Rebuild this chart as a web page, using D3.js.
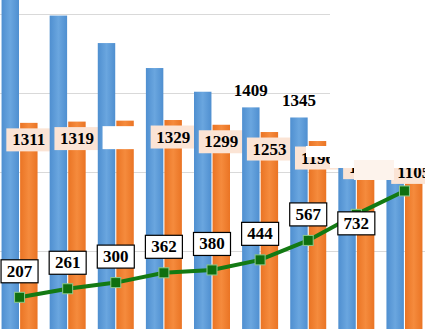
<!doctype html>
<html lang="en">
<head>
    <meta charset="UTF-8">
    <title>Bars and line</title>
    <script src="https://d3js.org/d3.v7.min.js"></script>
    <style>
        body { margin: 0; background: #fff; }
        svg { display: block; }
        .lbl { font-family: "Liberation Serif", "Times New Roman", serif; font-weight: bold; font-size: 17px; fill: #000; }
    </style>
</head>
<body>
<div id="chart"></div>
<script>

    // data
    const categories = ["1", "2", "3", "4", "5", "6", "7", "8", "9"];
    const blueValues = [2120, 1990, 1816, 1658, 1508, 1409, 1345, 1290, 1240];
    const blueLabels = [null, null, null, null, null, "1409", "1345", null, null];
    const orangeValues = [1311, 1319, 1325, 1329, 1299, 1253, 1196, 1135, 1105];
    const orangeLabels = ["1311", "1319", "", "1329", "1299", "1253", "1196", "1135", "1105"];
    const lineValues = [207, 261, 300, 362, 380, 444, 567, 732, 880];
    const lineLabels = ["207", "261", "300", "362", "380", "444", "567", "732", null];
    const yTicks = [0, 500, 1000, 1500, 2000];

    const width = 425, height = 329;

    let svg = d3.select("#chart").append("svg")
        .attr("width", width)
        .attr("height", height);

    //gradients for the bars
    let defs = svg.append("defs");
    function gradient(id, edge, mid) {
        let g = defs.append("linearGradient").attr("id", id)
            .attr("x1", "0%").attr("x2", "100%").attr("y1", "0%").attr("y2", "0%");
        g.append("stop").attr("offset", "0%").attr("stop-color", edge);
        g.append("stop").attr("offset", "50%").attr("stop-color", mid);
        g.append("stop").attr("offset", "100%").attr("stop-color", edge);
    }
    gradient("blueGrad", "#4f8fd0", "#6aa6df");
    gradient("orangeGrad", "#ea7424", "#f58b3d");

    //scales
    let x = d3.scaleBand()
        .domain(categories)
        .range([-4.5, 428.5]);
    let bw = x.bandwidth();

    let xSub = d3.scaleBand()
        .domain(["blue", "orange"])
        .range([bw / 2 - 18, bw / 2 + 18])
        .paddingInner(0.06);

    let y = d3.scaleLinear()
        .domain([0, 2000])
        .range([330, 14]);

    //gridlines
    let grid = svg.append("g")
        .call(d3.axisLeft(y).tickValues(yTicks).tickSize(-width).tickFormat(""));
    grid.select(".domain").remove();
    grid.selectAll("line").attr("stroke", "#d9d9d9");

    //bars
    let groups = svg.selectAll(".grp")
        .data(categories)
        .enter()
        .append("g")
        .attr("class", "grp")
        .attr("transform", d => "translate(" + x(d) + ",0)");

    groups.append("rect")
        .attr("x", xSub("blue"))
        .attr("width", xSub.bandwidth())
        .attr("y", (d, i) => y(blueValues[i]))
        .attr("height", (d, i) => y(0) - y(blueValues[i]))
        .attr("fill", "url(#blueGrad)");

    groups.append("rect")
        .attr("x", xSub("orange"))
        .attr("width", xSub.bandwidth())
        .attr("y", (d, i) => y(orangeValues[i]))
        .attr("height", (d, i) => y(0) - y(orangeValues[i]))
        .attr("fill", "url(#orangeGrad)");

    //orange labels
    let oc = xSub("orange") + xSub.bandwidth() / 2;
    groups.append("rect")
        .attr("x", oc - 22.5)
        .attr("y", (d, i) => y(orangeValues[i]) + 17 - 11.5)
        .attr("width", 45)
        .attr("height", 23)
        .attr("fill", (d, i) => orangeLabels[i] ? "#fbe4d5" : "#fff");
    groups.append("text")
        .attr("class", "lbl")
        .attr("x", oc)
        .attr("y", (d, i) => y(orangeValues[i]) + 17)
        .attr("text-anchor", "middle")
        .attr("dominant-baseline", "central")
        .text((d, i) => orangeLabels[i]);

    //blue labels
    let bc = xSub("blue") + xSub.bandwidth() / 2;
    groups.filter((d, i) => blueLabels[i])
        .append("text")
        .attr("class", "lbl")
        .attr("x", bc)
        .attr("y", d => y(blueValues[categories.indexOf(d)]) - 11)
        .attr("text-anchor", "middle")
        .text(d => blueLabels[categories.indexOf(d)]);

    //line
    let cx = d => x(d) + bw / 2;
    let line = d3.line()
        .x(d => cx(d))
        .y((d, i) => y(lineValues[i]));

    svg.append("path")
        .datum(categories)
        .attr("d", line)
        .attr("fill", "none")
        .attr("stroke", "#137a13")
        .attr("stroke-width", 4);

    svg.selectAll(".mk")
        .data(categories)
        .enter()
        .append("rect")
        .attr("class", "mk")
        .attr("x", d => cx(d) - 5)
        .attr("y", (d, i) => y(lineValues[i]) - 5)
        .attr("width", 10)
        .attr("height", 10)
        .attr("fill", "#0f6f0f")
        .attr("stroke", "#8cc98c")
        .attr("stroke-width", 1);

    //line labels (the 8th one sits over its marker)
    let labelDy = i => i === 7 ? 9 : -26;
    let ll = svg.selectAll(".ll")
        .data(categories.filter((d, i) => lineLabels[i]))
        .enter()
        .append("g")
        .attr("class", "ll")
        .attr("transform", (d, i) => "translate(" + cx(d) + "," + (y(lineValues[i]) + labelDy(i)) + ")");
    ll.append("rect")
        .attr("x", -18.5).attr("y", -11.5)
        .attr("width", 37).attr("height", 23)
        .attr("fill", "#fff")
        .attr("stroke", "#000")
        .attr("stroke-width", 1.2);
    ll.append("text")
        .attr("class", "lbl")
        .attr("text-anchor", "middle")
        .attr("dominant-baseline", "central")
        .text((d, i) => lineLabels[i]);

    //blank patch top right
    svg.append("rect").attr("x", 330).attr("y", 0).attr("width", 95).attr("height", 168).attr("fill", "#fff");
    svg.append("rect").attr("x", 306).attr("y", 146).attr("width", 40).attr("height", 11).attr("fill", "#fff");
    svg.append("rect").attr("x", 354).attr("y", 160).attr("width", 40).attr("height", 20).attr("fill", "#fdf3ec");

</script>
</body>
</html>
